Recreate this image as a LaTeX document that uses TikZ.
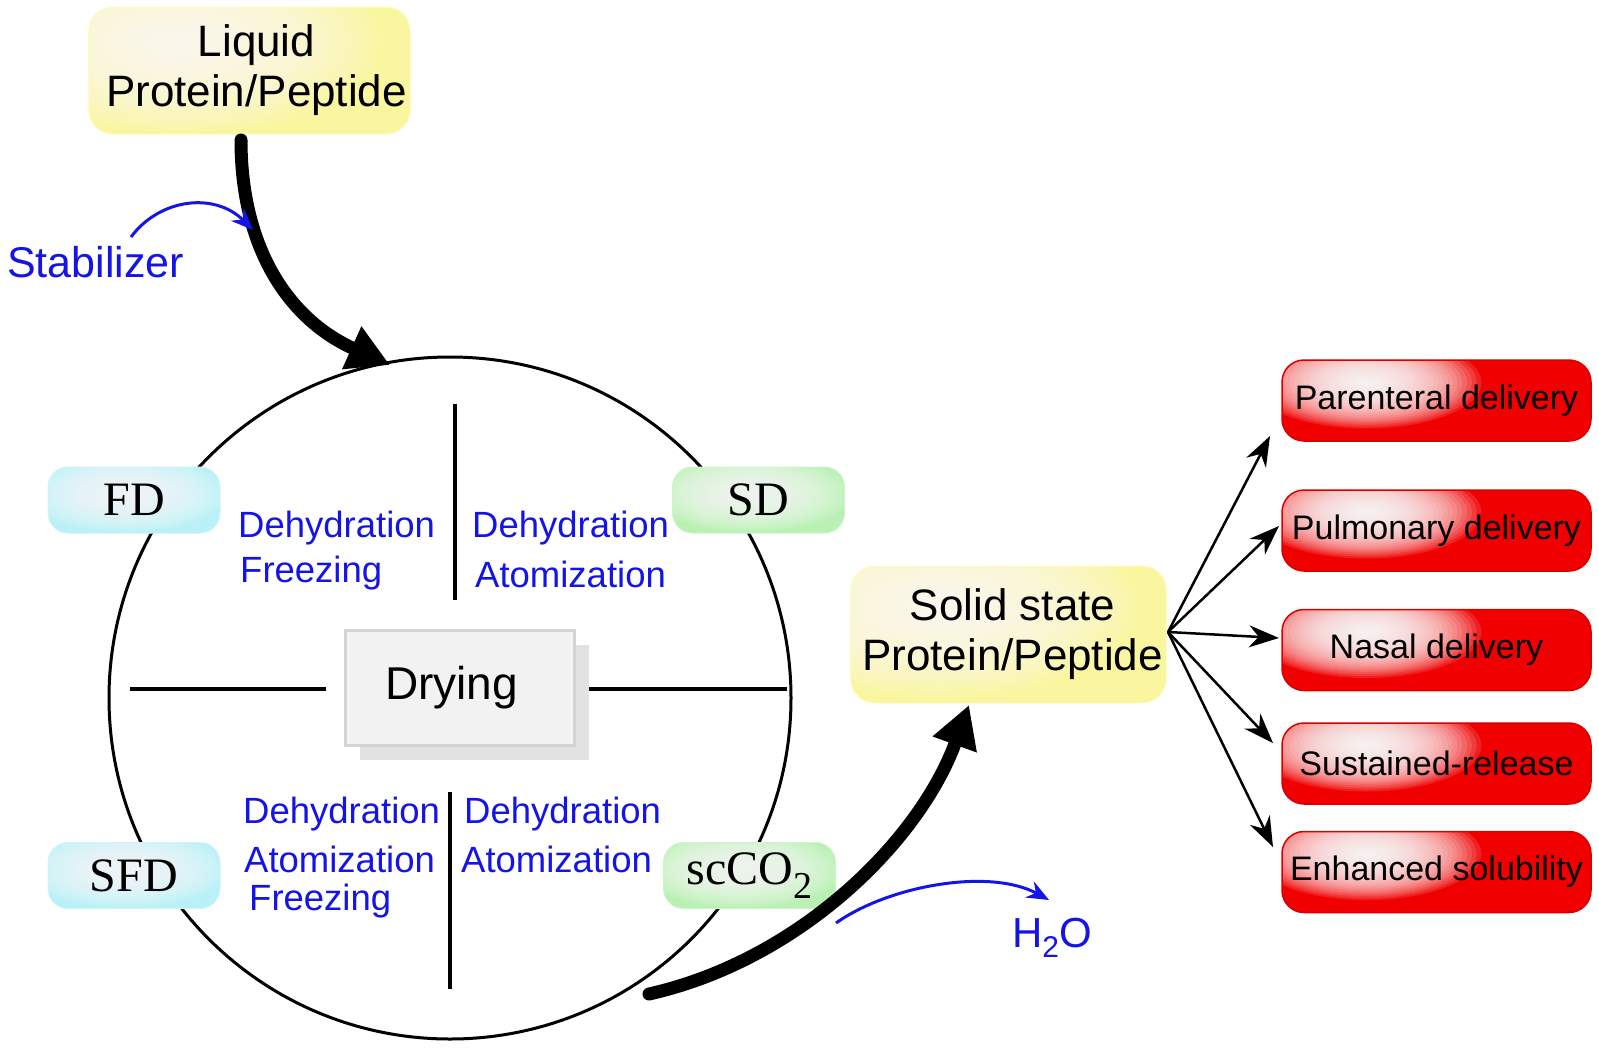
\documentclass[tikz,border=0pt]{standalone}
\usepackage{fontspec}
\setmainfont{Liberation Sans}
\newfontfamily\seriffont{Liberation Serif}
\usetikzlibrary{arrows.meta,shadows}
\definecolor{myblue}{RGB}{20,20,230}
\definecolor{boxyellow}{RGB}{250,246,160}
\definecolor{boxcyan}{RGB}{186,240,247}
\definecolor{boxgreen}{RGB}{186,240,180}
\definecolor{boxred}{RGB}{240,0,0}
\definecolor{dryfill}{RGB}{242,242,242}
\definecolor{drydraw}{RGB}{212,212,212}
\definecolor{dryshadow}{RGB}{226,226,226}
\begin{document}
\begin{tikzpicture}[x=1pt,y=-1pt,
  glow/.style n args={4}{path picture={\foreach \k in {1,...,24}
      \fill[white,opacity=#4] ([shift={(#1)}]path picture bounding box.center)
        ellipse ({#2*\k/24} and {#3*\k/24});}},
  ybox/.style={fill=boxyellow,draw=yellow!25,line width=1pt,rounded corners=24pt,
    glow={-70pt,28pt}{200}{90}{0.08},
    minimum width=311pt,minimum height=130pt,align=center,font=\fontsize{44}{50}\selectfont},
  cbox/.style={fill=boxcyan,draw=boxcyan!70,line width=1pt,rounded corners=20pt,
    glow={-8pt,6pt}{100}{38}{0.08},
    minimum width=172pt,minimum height=66pt,font=\seriffont\fontsize{48}{50}\selectfont},
  gbox/.style={cbox,fill=boxgreen,draw=boxgreen!70},
  rbox/.style={fill=boxred,draw=red!85!black,line width=1.5pt,rounded corners=22pt,
    glow={-70pt,18pt}{115}{46}{0.12},
    minimum width=309pt,minimum height=81pt,font=\fontsize{34}{40}\selectfont},
  lab/.style={anchor=west,inner sep=0pt,text=myblue,font=\fontsize{36.5}{40}\selectfont},
  bigarrow/.style={line width=13pt,line cap=round,-{Triangle[length=42pt,width=44pt]}},
  bluearrow/.style={draw=myblue,line width=3pt,-{Stealth[length=22pt,width=18pt]}},
  fanarrow/.style={line width=2.5pt,-{Stealth[length=30pt,width=22pt]}}
]
\useasboundingbox (0,0) rectangle (1599,1050);

% circle and cross lines
\node[circle,draw,line width=3pt,minimum size=682pt,inner sep=0pt] (ring) at (450,698) {};
\draw[line width=3.5pt] (455,404) -- (455,600);
\draw[line width=3.5pt] (450,792) -- (450,989);
\draw[line width=3.5pt] (130,689) -- (326,689);
\draw[line width=3.5pt] (589,689) -- (787,689);

% drying box
\node[draw=drydraw,fill=dryfill,line width=3pt,minimum width=229pt,minimum height=115pt,
  drop shadow={shadow xshift=15pt,shadow yshift=-15pt,fill=dryshadow,opacity=1},
  font=\fontsize{46}{50}\selectfont] (dry) at (459.5,687.5) {Drying\hspace*{16pt}};

% method boxes
\node[cbox] (fd) at (134,500) {FD};
\node[gbox] (sd) at (758.5,500) {SD};
\node[cbox] (sfd) at (134,875.5) {SFD};
\node[gbox] (sc) at (749.5,875.5) {scCO\raisebox{-0.28em}{\fontsize{38}{40}\selectfont 2}};

% quadrant labels
\node[lab] (ul1) at (238,528) {Dehydration};
\node[lab] (ul2) at (240,573) {Freezing};
\node[lab] (ur1) at (472,528) {Dehydration};
\node[lab] (ur2) at (475,574) {Atomization};
\node[lab] (ll1) at (243,814) {Dehydration};
\node[lab] (ll2) at (244,859) {Atomization};
\node[lab] (ll3) at (249,901) {Freezing};
\node[lab] (lr1) at (464,814) {Dehydration};
\node[lab] (lr2) at (461,859) {Atomization};

% top and solid boxes
\node[ybox,minimum height=127pt] (liq) at (249.5,70.5) {\hspace*{14pt}Liquid\\\hspace*{14pt}Protein/Peptide};
\node[ybox,minimum height=137pt] (solid) at (1008.5,634.5) {\hspace*{8pt}Solid state\\\hspace*{8pt}Protein/Peptide};

% big arrows
\coordinate (inTip) at (390,365);
\draw[bigarrow] (241,140) .. controls (241,250) and (290,320) .. (inTip);
\coordinate (outStart) at (649,994);
\coordinate (outTip) at (969,705);
\draw[bigarrow] (outStart) .. controls (800,960) and (920,840) .. (outTip);

% stabilizer
\node[anchor=west,inner sep=0pt,text=myblue,font=\fontsize{43}{46}\selectfont] (stab) at (7,262) {Stabilizer};
\coordinate (stabStart) at (131,237);
\coordinate (stabTip) at (253,230);
\draw[bluearrow] (stabStart) .. controls (160,198) and (215,192) .. (stabTip);

% water
\node[text=myblue,inner sep=0pt,font=\fontsize{42}{46}\selectfont] (h2o) at (1052,938) {H\raisebox{-0.25em}{\fontsize{30}{30}\selectfont 2}O};
\coordinate (h2oStart) at (836,923);
\coordinate (h2oTip) at (1049,900);
\draw[bluearrow] (h2oStart) .. controls (890,885) and (990,868) .. (h2oTip);

% delivery boxes
\node[rbox] (par) at (1436.5,400.5) {Parenteral delivery};
\node[rbox] (pul) at (1436.5,530.5) {Pulmonary delivery};
\node[rbox] (nas) at (1436.5,650) {Nasal delivery};
\node[rbox] (sus) at (1436.5,763.5) {Sustained-release};
\node[rbox] (enh) at (1436.5,872) {Enhanced solubility};

% fan
\coordinate (fan) at (1168,632);
\coordinate (t1) at (1270,436);
\coordinate (t2) at (1279,526);
\coordinate (t3) at (1279,638);
\coordinate (t4) at (1273,743);
\coordinate (t5) at (1273,847);
\foreach \t in {t1,t2,t3,t4,t5} \draw[fanarrow] (fan) -- (\t);
\end{tikzpicture}
\end{document}
